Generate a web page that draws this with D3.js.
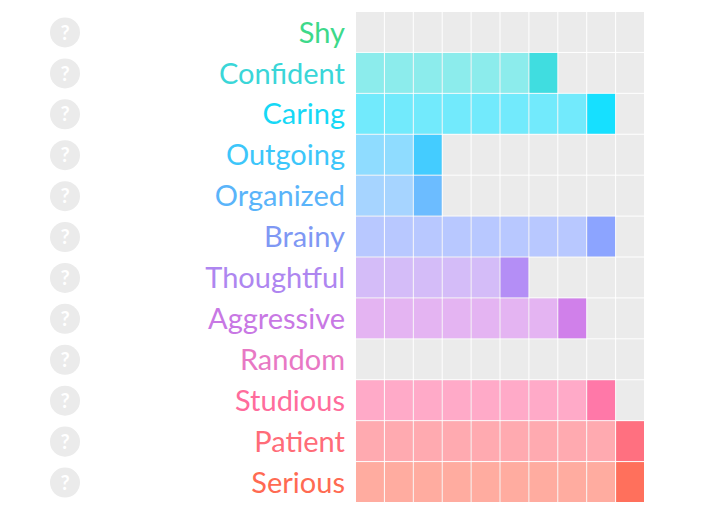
<!DOCTYPE html>
<html>
<head>
<meta charset="utf-8">
<script src="https://cdn.jsdelivr.net/npm/d3@7"></script>
<style>
  body { margin: 0; background: #fff; }
  svg { display: block; }
</style>
</head>
<body>
<svg id="chart"></svg>
<script>
// traits and their scores out of 10
const traits = ["Shy", "Confident", "Caring", "Outgoing", "Organized", "Brainy",
    "Thoughtful", "Aggressive", "Random", "Studious", "Patient", "Serious"];
const scores = [0, 7, 9, 3, 3, 9, 6, 8, 0, 9, 10, 10];
const steps = d3.range(1, 11);

// colours per row: label, filled cell, last cell
const labelColors = ["#3dd98a", "#3ad6d8", "#16d8f6", "#3cc6fa", "#5ab4fa", "#7f98f4",
    "#ae86f0", "#c878e4", "#e878c4", "#ff6c9c", "#ff6c78", "#ff6a52"];
const lightColors = ["#8de8a8", "#8cecec", "#72eafc", "#8fdcff", "#a6d4ff", "#b8c8ff",
    "#d4bcf8", "#e4b4f2", "#f4b4dc", "#ffaac8", "#ffaab0", "#ffaca0"];
const darkColors = ["#3ddc84", "#40dde0", "#16e0ff", "#44ccff", "#6cbcff", "#8ca4ff",
    "#b48ef6", "#d080ea", "#e870c0", "#ff78a8", "#ff7080", "#ff705c"];

const width = 716, height = 518;

const svg = d3.select("#chart")
    .attr("width", width)
    .attr("height", height);

const x = d3.scaleBand()
    .domain(steps)
    .range([356, 645]);

const y = d3.scaleBand()
    .domain(traits)
    .range([12, 503]);

const rows = svg.selectAll("g.row")
    .data(traits)
    .enter().append("g")
    .attr("class", "row")
    .attr("transform", d => "translate(0," + y(d) + ")");

// empty grid cells
rows.selectAll("rect.bg")
    .data(steps)
    .enter().append("rect")
    .attr("class", "bg")
    .attr("x", d => x(d))
    .attr("y", 0)
    .attr("width", x.bandwidth() - 1)
    .attr("height", y.bandwidth() - 1)
    .style("fill", "#ebebeb");

// filled cells
rows.each(function(trait, i) {
    const score = scores[i];
    d3.select(this).selectAll("rect.fill")
        .data(steps.filter(s => s <= score))
        .enter().append("rect")
        .attr("class", "fill")
        .attr("x", d => x(d))
        .attr("y", 0)
        .attr("width", x.bandwidth() - 1)
        .attr("height", y.bandwidth() - 1)
        .style("fill", d => d === score ? darkColors[i] : lightColors[i]);
});

// trait labels
rows.append("text")
    .attr("x", 345)
    .attr("y", y.bandwidth() / 2)
    .attr("dy", "0.35em")
    .attr("text-anchor", "end")
    .style("font-family", "Lato, 'Noto Sans', sans-serif")
    .style("font-size", "29px")
    .style("fill", (d, i) => labelColors[i])
    .text(d => d);

// help icons
rows.append("circle")
    .attr("cx", 65)
    .attr("cy", y.bandwidth() / 2)
    .attr("r", 15)
    .style("fill", "#ebebeb");

rows.append("text")
    .attr("x", 65)
    .attr("y", y.bandwidth() / 2)
    .attr("dy", "0.36em")
    .attr("text-anchor", "middle")
    .style("font-family", "Lato, sans-serif")
    .style("font-weight", "bold")
    .style("font-size", "20px")
    .style("fill", "#fff")
    .text("?");
</script>
</body>
</html>
